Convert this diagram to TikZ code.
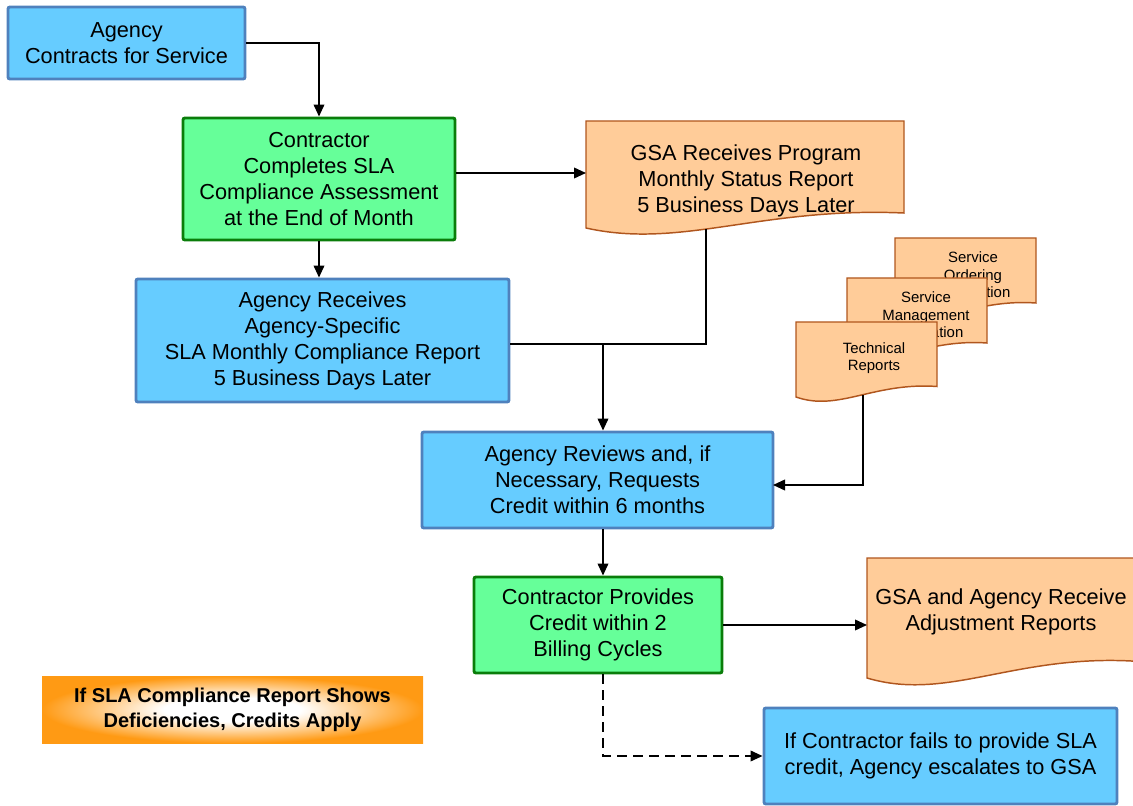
\documentclass[tikz,border=0pt]{standalone}
\usepackage{fontspec}
\setmainfont{Liberation Sans}
\usetikzlibrary{arrows.meta,calc}
\definecolor{bluefill}{HTML}{66CCFF}
\definecolor{bluebd}{HTML}{4F81BD}
\definecolor{greenfill}{HTML}{66FF99}
\definecolor{greenbd}{HTML}{0A7D0A}
\definecolor{docfill}{HTML}{FFCC99}
\definecolor{docbd}{HTML}{B0561E}
\definecolor{bannerorange}{HTML}{FF9A14}
\pgfdeclareradialshading{bannershade}{\pgfpoint{0bp}{0bp}}{color(0bp)=(white); color(9bp)=(white); color(25bp)=(bannerorange); color(50bp)=(bannerorange)}
\newcommand{\docshape}[4]{%
  \pgfmathsetmacro\dh{#4-#2}\pgfmathsetmacro\dw{#3-#1}%
  \draw[docline] (#1,#2) -- (#3,#2) -- (#3,{#4-0.14*\dh})
    .. controls ({#1+0.55*\dw},{#4-0.2*\dh}) and ({#1+0.3*\dw},{#4+0.2*\dh}) .. (#1,#4) -- cycle;}
\tikzset{
  bluebox/.style={draw=bluebd, fill=bluefill, line width=2.2pt, rounded corners=1.5pt, align=center, inner sep=0pt, font=\mainfnt},
  greenbox/.style={draw=greenbd, fill=greenfill, line width=2.2pt, rounded corners=1.5pt, align=center, inner sep=0pt, font=\mainfnt},
  docline/.style={draw=docbd, fill=docfill, line width=1.1pt},
  doctext/.style={align=center, inner sep=0pt, font=\mainfnt},
  smalldoc/.style={align=center, inner sep=0pt, font=\smallfnt},
  conn/.style={line width=1.2pt, -{Triangle[length=9pt,width=8pt]}},
  plainline/.style={line width=1.2pt},
  banner/.style={shading=bannershade, draw=none, align=center, inner sep=0pt, font=\bannerfnt}
}
\newcommand{\mainfnt}{\fontsize{16.3pt}{19.5pt}\selectfont}
\newcommand{\smallfnt}{\fontsize{11.2pt}{13.1pt}\selectfont}
\newcommand{\bannerfnt}{\fontsize{15pt}{18.75pt}\selectfont\bfseries}
\begin{document}
\begin{tikzpicture}[x=0.75pt,y=-0.75pt]
\useasboundingbox (0,0) rectangle (1133,806);
% documents
\docshape{586}{121}{904}{228}
\node[doctext] (D) at (746,181) {GSA Receives Program\\Monthly Status Report\\5 Business Days Later};
\docshape{895}{238}{1036}{313.6}
\node[smalldoc] (O) at (973,275) {Service\\Ordering\\Information};
\docshape{847}{278}{987}{353.6}
\node[smalldoc] (M) at (926,315) {Service\\Management\\Information};
\docshape{796}{322}{937}{397}
\node[smalldoc] (T) at (874,358) {Technical\\Reports};
\docshape{867}{558}{1135}{678}
\node[doctext] (G) at (1001,612) {GSA and Agency Receive\\Adjustment Reports};
% boxes
\node[bluebox, minimum width=177.75pt, minimum height=54pt] (A) at (126.5,43) {Agency\\Contracts for Service};
\node[greenbox, minimum width=204pt, minimum height=91.5pt] (B) at (319,179) {Contractor\\Completes SLA\\Compliance Assessment\\at the End of Month};
\node[bluebox, minimum width=279.75pt, minimum height=92.25pt] (C) at (322.5,340.5) {Agency Receives\\Agency-Specific\\SLA Monthly Compliance Report\\5 Business Days Later};
\node[bluebox, minimum width=263.25pt, minimum height=72pt] (E) at (597.5,480) {Agency Reviews and, if\\Necessary, Requests\\Credit within 6 months};
\node[greenbox, minimum width=186pt, minimum height=72pt] (F) at (598,625) {Contractor Provides\\Credit within 2\\Billing Cycles};
\node[bluebox, minimum width=264.75pt, minimum height=72pt] (H) at (940.5,756) {If Contractor fails to provide SLA\\credit, Agency escalates to GSA};
\node[banner, minimum width=285.75pt, minimum height=50.25pt] (N) at (232.5,709.5) {If SLA Compliance Report Shows\\Deficiencies, Credits Apply};
% connection points
\coordinate (dIn) at (586,173);
\coordinate (dOut) at (706,229);
\coordinate (j) at (603,344);
\coordinate (tOut) at (863,395);
\coordinate (eIn) at (773,485);
\coordinate (gIn) at (867,625);
% connectors
\draw[conn] (A.east) -| (B.north);
\draw[conn] (B.south) -- (C.north -| B.south);
\draw[conn] (B.east |- dIn) -- (dIn);
\draw[plainline] (dOut) |- (j);
\draw[plainline] (C.east |- j) -- (j);
\draw[conn] (j) -- (j |- E.north);
\draw[conn] (tOut) |- (eIn);
\draw[conn] (j |- E.south) -- (j |- F.north);
\draw[conn] (F.east) -- (gIn);
\draw[conn, dashed, dash pattern=on 7pt off 5pt] (j |- F.south) |- (H.west);
\end{tikzpicture}
\end{document}
